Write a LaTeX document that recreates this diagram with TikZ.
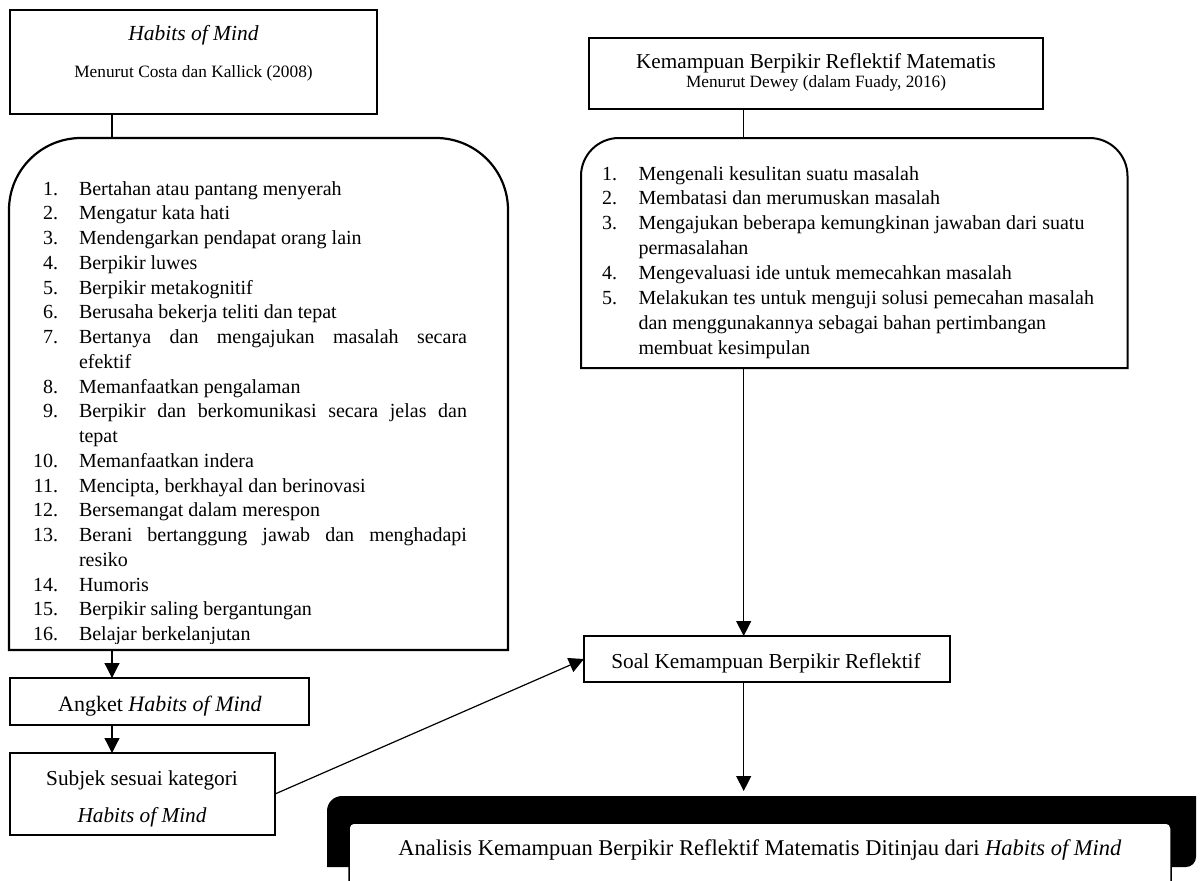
\documentclass[tikz,border=0pt]{standalone}
\usepackage{fontspec}
\setmainfont{Liberation Serif}
\usetikzlibrary{arrows.meta}
\newcommand\fsz[1]{\fontsize{#1}{#1}\selectfont}
\begin{document}
\begin{tikzpicture}[x=1pt,y=1pt,
  frame/.style={draw=black, line width=2pt, inner sep=0pt, outer sep=0pt},
  ghost/.style={inner sep=0pt, outer sep=0pt},
  lbl/.style={inner sep=0pt, outer sep=0pt, anchor=base},
  conn/.style={line width=1.2pt},
  arr/.style={line width=1.2pt, -{Triangle[width=15pt,length=15pt]}},
]
\useasboundingbox (0,0) rectangle (1200,-881);
\clip (0,0) rectangle (1200,-881);
\coordinate (cx) at (112,0);
\coordinate (rx) at (743.7,0);

% top-left box
\node[frame, line width=1.3pt, minimum width=367pt, minimum height=104pt] (T) at (193.5,-62) {};
\node[lbl, font=\fsz{21.5}\itshape] (Tt) at (193.5,-40) {Habits of Mind};
\node[lbl, font=\fsz{17.3}] (Ts) at (193.5,-77) {Menurut Costa dan Kallick (2008)};

% left list box
\node[ghost, minimum width=499pt, minimum height=512pt] (L) at (258.5,-394) {};
\draw[line width=2.2pt] (L.south west) -- ([yshift=-72pt]L.north west) arc[start angle=180,end angle=90,radius=72pt] -- ([xshift=-72pt]L.north east) arc[start angle=90,end angle=0,radius=72pt] -- (L.south east) -- cycle;
\begin{scope}
\clip (0,-130) rectangle (520,-643);
\foreach \i/\n/\t in {0/1/Bertahan atau pantang menyerah,
  1/2/Mengatur kata hati,
  2/3/Mendengarkan pendapat orang lain,
  3/4/Berpikir luwes,
  4/5/Berpikir metakognitif,
  5/6/Berusaha bekerja teliti dan tepat,
  6/7/{\makebox[388pt][s]{Bertanya dan mengajukan masalah secara}},
  8/8/Memanfaatkan pengalaman,
  9/9/{\makebox[388pt][s]{Berpikir dan berkomunikasi secara jelas dan}},
  11/10/Memanfaatkan indera,
  12/11/{Mencipta, berkhayal dan berinovasi},
  13/12/Bersemangat dalam merespon,
  14/13/{\makebox[388pt][s]{Berani bertanggung jawab dan menghadapi}},
  16/14/Humoris,
  17/15/Berpikir saling bergantungan,
  18/16/Belajar berkelanjutan}{
  \node[lbl, anchor=base east, font=\fsz{20}] (ln\i) at (58,{-195-24.75*\i}) {\n.};
  \node[lbl, anchor=base west, font=\fsz{20}] (lt\i) at (79,{-195-24.75*\i}) {\t};
}
\foreach \i/\t in {7/efektif, 10/tepat, 15/resiko}{
  \node[lbl, anchor=base west, font=\fsz{20}] (lt\i) at (79,{-195-24.75*\i}) {\t};
}
\end{scope}

% top-right box
\node[frame, minimum width=454pt, minimum height=71pt] (K) at (816,-73.5) {};
\node[lbl, font=\fsz{21.2}] (Kt) at (816,-68) {Kemampuan Berpikir Reflektif Matematis};
\node[lbl, font=\fsz{17.25}] (Ks) at (816,-87) {Menurut Dewey (dalam Fuady, 2016)};

% right list box
\node[ghost, minimum width=546.5pt, minimum height=230pt] (R) at (854.25,-253) {};
\draw[line width=2pt] (R.south west) -- ([yshift=-38pt]R.north west) arc[start angle=180,end angle=90,radius=38pt] -- ([xshift=-38pt]R.north east) arc[start angle=90,end angle=0,radius=38pt] -- (R.south east) -- cycle;
\foreach \i/\n/\t in {0/1/Mengenali kesulitan suatu masalah,
  1/2/Membatasi dan merumuskan masalah,
  2/3/Mengajukan beberapa kemungkinan jawaban dari suatu,
  4/4/Mengevaluasi ide untuk memecahkan masalah,
  5/5/Melakukan tes untuk menguji solusi pemecahan masalah}{
  \node[lbl, anchor=base west, font=\fsz{20}] (rn\i) at (602,{-180-24.9*\i}) {\n.};
  \node[lbl, anchor=base west, font=\fsz{20}] (rt\i) at (638.5,{-180-24.9*\i}) {\t};
}
\foreach \i/\t in {3/permasalahan, 6/dan menggunakannya sebagai bahan pertimbangan, 7/membuat kesimpulan}{
  \node[lbl, anchor=base west, font=\fsz{20}] (rt\i) at (638.5,{-180-24.9*\i}) {\t};
}

% Soal box
\node[frame, minimum width=366pt, minimum height=46pt] (Q) at (767,-659) {};
\node[lbl, font=\fsz{21.3}] (Qt) at (766,-668) {Soal Kemampuan Berpikir Reflektif};

% Angket box
\node[frame, minimum width=299.4pt, minimum height=47pt] (A) at (159.3,-701.5) {};
\node[lbl, font=\fsz{22}] (At) at (160,-711) {Angket \textit{Habits of Mind}};

% Subjek box
\node[frame, minimum width=265.4pt, minimum height=82pt] (S) at (142.3,-794) {};
\node[lbl, font=\fsz{21.3}] (St1) at (142,-785) {Subjek sesuai kategori};
\node[lbl, font=\fsz{21.3}\itshape] (St2) at (142,-822) {Habits of Mind};

% bottom frame
\node[ghost, minimum width=869pt, minimum height=71pt] (F) at (761.5,-831.5) {};
\fill (F.south west) -- ([yshift=-15pt]F.north west) arc[start angle=180,end angle=90,radius=15pt] -- (F.north east) -- ([yshift=10pt]F.south east) arc[start angle=0,end angle=-90,radius=10pt] -- cycle;
\node[draw=black, fill=white, line width=1.5pt, rounded corners=5pt, inner sep=0pt, outer sep=0pt, minimum width=822pt, minimum height=77pt] (I) at (760,-861.5) {};
\node[lbl, font=\fsz{22.5}] (Ft) at (760,-855) {Analisis Kemampuan Berpikir Reflektif Matematis Ditinjau dari \textit{Habits of Mind}};

% connectors
\draw[conn] (T.south -| cx) -- (L.north -| cx);
\draw[arr] (L.south -| cx) -- (A.north -| cx);
\draw[arr] (A.south -| cx) -- (S.north -| cx);
\draw[conn] (K.south -| rx) -- (R.north -| rx);
\draw[arr] (R.south -| rx) -- (Q.north -| rx);
\draw[arr, shorten >=5pt] (Q.south -| rx) -- (F.north -| rx);
\draw[arr] (S.east) -- (Q.west);
\end{tikzpicture}
\end{document}
